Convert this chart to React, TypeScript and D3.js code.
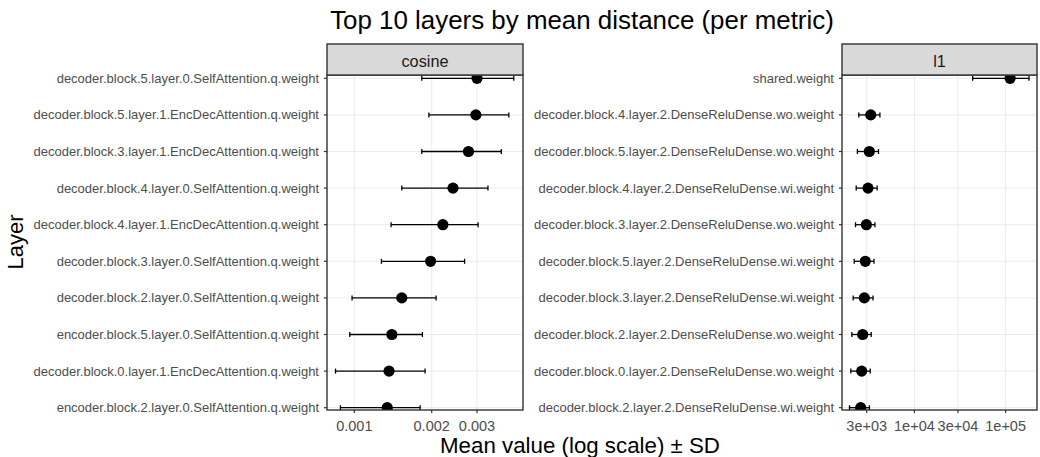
import * as d3 from "d3";

const cosineLayers = [
  "decoder.block.5.layer.0.SelfAttention.q.weight",
  "decoder.block.5.layer.1.EncDecAttention.q.weight",
  "decoder.block.3.layer.1.EncDecAttention.q.weight",
  "decoder.block.4.layer.0.SelfAttention.q.weight",
  "decoder.block.4.layer.1.EncDecAttention.q.weight",
  "decoder.block.3.layer.0.SelfAttention.q.weight",
  "decoder.block.2.layer.0.SelfAttention.q.weight",
  "encoder.block.5.layer.0.SelfAttention.q.weight",
  "decoder.block.0.layer.1.EncDecAttention.q.weight",
  "encoder.block.2.layer.0.SelfAttention.q.weight",
];
const cosineMean = [0.003, 0.00297, 0.00278, 0.00242, 0.00221, 0.00198, 0.00153, 0.0014, 0.001365, 0.001343];
const cosineSd = [0.00117, 0.00102, 0.00095, 0.00089, 0.00082, 0.000705, 0.00055, 0.00044, 0.00052, 0.00046];

const l1Layers = [
  "shared.weight",
  "decoder.block.4.layer.2.DenseReluDense.wo.weight",
  "decoder.block.5.layer.2.DenseReluDense.wo.weight",
  "decoder.block.4.layer.2.DenseReluDense.wi.weight",
  "decoder.block.3.layer.2.DenseReluDense.wo.weight",
  "decoder.block.5.layer.2.DenseReluDense.wi.weight",
  "decoder.block.3.layer.2.DenseReluDense.wi.weight",
  "decoder.block.2.layer.2.DenseReluDense.wo.weight",
  "decoder.block.0.layer.2.DenseReluDense.wo.weight",
  "decoder.block.2.layer.2.DenseReluDense.wi.weight",
];
const l1Mean = [112000, 3320, 3205, 3100, 2975, 2895, 2825, 2710, 2642, 2576];
const l1Sd = [68500, 865, 835, 800, 715, 707, 693, 650, 635, 635];

const cosineTicks = [0.001, 0.002, 0.003];
const cosineTickLabels = ["0.001", "0.002", "0.003"];
const l1Ticks = [3000, 10000, 30000, 100000];
const l1TickLabels = ["3e+03", "1e+04", "3e+04", "1e+05"];

const font = "'Liberation Sans', Arial, Helvetica, sans-serif";
const panelTop = 75;
const panelBottom = 410;
const stripTop = 44;

type PanelProps = {
  name: string;
  layers: string[];
  mean: number[];
  sd: number[];
  ticks: number[];
  tickLabels: string[];
  x0: number;
  x1: number;
  domain: [number, number];
};

function Panel({ name, layers, mean, sd, ticks, tickLabels, x0, x1, domain }: PanelProps) {
  const x = d3.scaleLog().domain(domain).range([x0, x1]);
  const y = d3.scalePoint<string>().domain(layers).range([78.3, 407.7]);
  const clipId = `clip-${name}`;
  return (
    <g>
      <defs>
        <clipPath id={clipId}>
          <rect x={x0} y={panelTop} width={x1 - x0} height={panelBottom - panelTop} />
        </clipPath>
      </defs>
      <rect x={x0} y={panelTop} width={x1 - x0} height={panelBottom - panelTop} fill="#fff" />
      {/* grid */}
      {ticks.map((t) => (
        <line key={t} x1={x(t)} x2={x(t)} y1={panelTop} y2={panelBottom} stroke="#ebebeb" strokeWidth={1} />
      ))}
      {layers.map((l) => (
        <line key={l} x1={x0} x2={x1} y1={y(l)} y2={y(l)} stroke="#ebebeb" strokeWidth={1} />
      ))}
      {/* marks */}
      <g clipPath={`url(#${clipId})`}>
        {layers.map((l, i) => {
          const lo = x(mean[i] - sd[i]);
          const hi = x(mean[i] + sd[i]);
          const yy = y(l)!;
          return (
            <g key={l}>
              <line x1={lo} x2={hi} y1={yy} y2={yy} stroke="#000" strokeWidth={1.3} />
              <line x1={lo} x2={lo} y1={yy - 2.5} y2={yy + 2.5} stroke="#000" strokeWidth={1.3} />
              <line x1={hi} x2={hi} y1={yy - 2.5} y2={yy + 2.5} stroke="#000" strokeWidth={1.3} />
              <circle cx={x(mean[i])} cy={yy} r={5.6} fill="#000" />
            </g>
          );
        })}
      </g>
      <rect x={x0} y={panelTop} width={x1 - x0} height={panelBottom - panelTop} fill="none" stroke="#333" strokeWidth={1.4} />
      {/* strip */}
      <rect x={x0} y={stripTop} width={x1 - x0} height={panelTop - stripTop} fill="#d9d9d9" stroke="#333" strokeWidth={1.4} />
      <text x={(x0 + x1) / 2} y={(stripTop + panelTop) / 2 + 1} textAnchor="middle" dominantBaseline="central" fontSize={16.3} fill="#1a1a1a" fontFamily={font}>
        {name}
      </text>
      {/* y axis */}
      {layers.map((l) => (
        <g key={l}>
          <line x1={x0 - 3} x2={x0} y1={y(l)} y2={y(l)} stroke="#333" strokeWidth={1.2} />
          <text x={x0 - 8} y={y(l)} textAnchor="end" dominantBaseline="central" fontSize={13} fill="#4d4d4d" fontFamily={font}>
            {l}
          </text>
        </g>
      ))}
      {/* x axis */}
      {ticks.map((t, i) => (
        <g key={t}>
          <line x1={x(t)} x2={x(t)} y1={panelBottom} y2={panelBottom + 3} stroke="#333" strokeWidth={1.2} />
          <text x={x(t)} y={panelBottom + 21} textAnchor="middle" fontSize={14.5} fill="#4d4d4d" fontFamily={font}>
            {tickLabels[i]}
          </text>
        </g>
      ))}
    </g>
  );
}

export default function App() {
  return (
    <svg width={1040} height={457} style={{ position: "absolute", left: 0, top: 0, background: "#fff" }}>
      <rect width={1040} height={457} fill="#fff" />
      <text x={582} y={28.5} textAnchor="middle" fontSize={25.9} fill="#000" fontFamily={font}>
        Top 10 layers by mean distance (per metric)
      </text>
      <Panel
        name="cosine"
        layers={cosineLayers}
        mean={cosineMean}
        sd={cosineSd}
        ticks={cosineTicks}
        tickLabels={cosineTickLabels}
        x0={327}
        x1={523}
        domain={[0.000783, 0.00453]}
      />
      <Panel
        name="l1"
        layers={l1Layers}
        mean={l1Mean}
        sd={l1Sd}
        ticks={l1Ticks}
        tickLabels={l1TickLabels}
        x0={842}
        x1={1037}
        domain={[1607, 220800]}
      />
      <text x={580} y={453} textAnchor="middle" fontSize={22.3} fill="#000" fontFamily={font}>
        Mean value (log scale) ± SD
      </text>
      <text transform="translate(23,242) rotate(-90)" textAnchor="middle" fontSize={22} fill="#000" fontFamily={font}>
        Layer
      </text>
    </svg>
  );
}
